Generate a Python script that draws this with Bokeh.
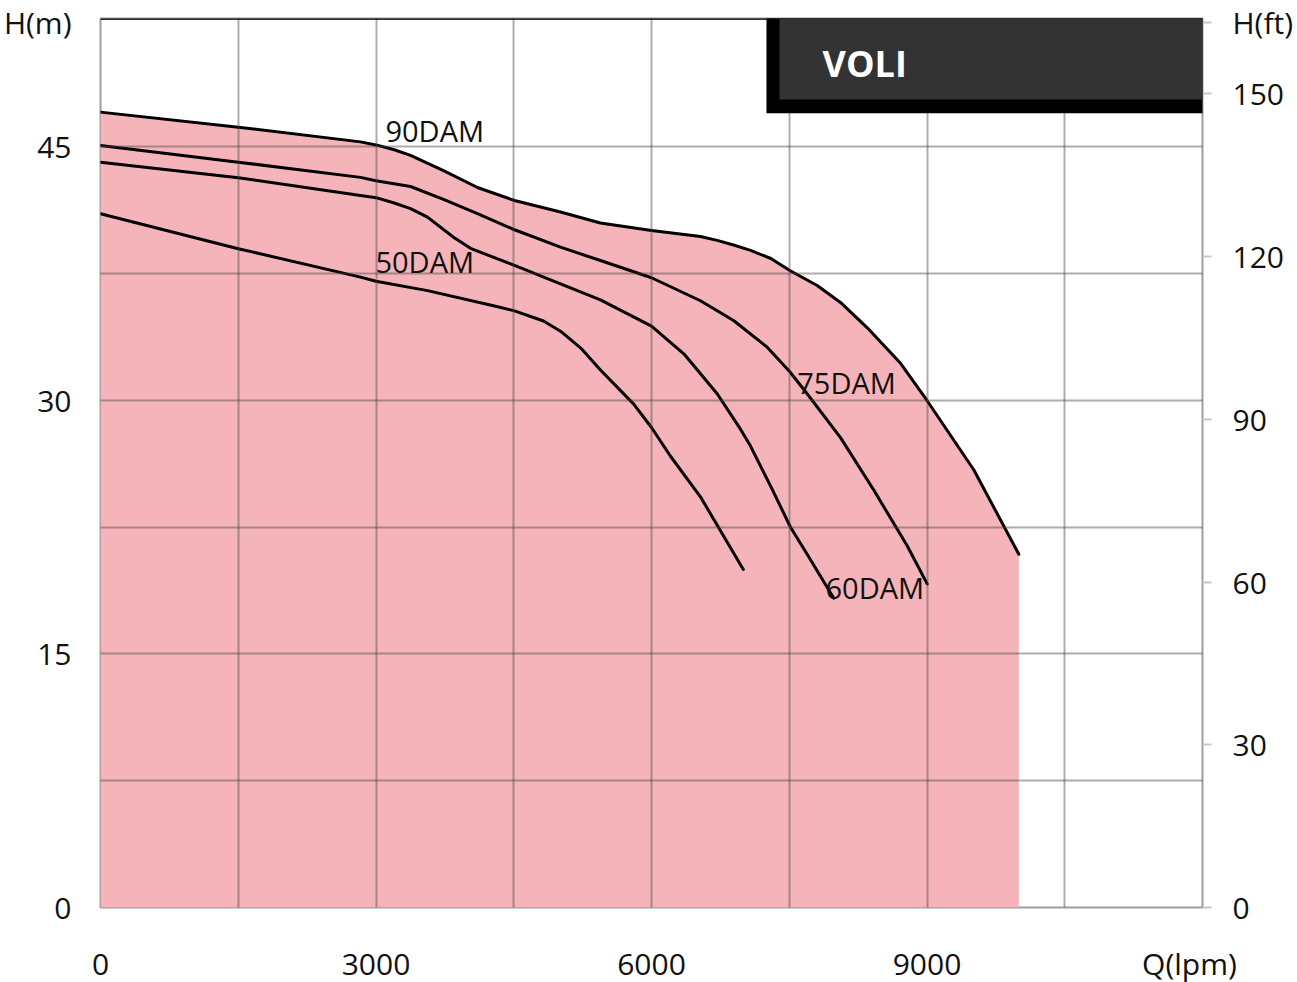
from bokeh.plotting import figure
from bokeh.models import (Range1d, LinearAxis, FixedTicker, Label, Span, BoxAnnotation)
from bokeh.embed import file_html
from bokeh.resources import INLINE

# ---- data (Q in lpm, H in m) ----
q90 = [0, 1500, 2831, 3000, 3190, 3376, 3735, 4105, 4508, 5009, 5444, 6000, 6533, 6715, 6893, 7078, 7300, 7506, 7804, 8058, 8350, 8712, 9000, 9509, 10000]
h90 = [47.06, 46.17, 45.3, 45.12, 44.85, 44.5, 43.6, 42.6, 41.83, 41.15, 40.5, 40.06, 39.7, 39.47, 39.2, 38.88, 38.4, 37.69, 36.8, 35.8, 34.3, 32.2, 30.0, 25.9, 20.9]

q75 = [0, 1500, 2831, 3000, 3376, 3735, 4105, 4508, 5009, 5444, 6000, 6533, 6893, 7260, 7506, 7695, 8058, 8420, 8784, 9002]
h75 = [45.09, 44.1, 43.2, 43.0, 42.66, 41.9, 41.05, 40.1, 39.07, 38.28, 37.26, 35.9, 34.73, 33.15, 31.7, 30.4, 27.8, 24.7, 21.4, 19.15]

q60 = [0, 1500, 3000, 3190, 3376, 3561, 3844, 4029, 4508, 5009, 5444, 6000, 6352, 6715, 6969, 7078, 7300, 7514, 7695, 7985]
h60 = [44.1, 43.18, 42.0, 41.7, 41.35, 40.85, 39.66, 39.0, 37.99, 36.9, 35.95, 34.4, 32.76, 30.4, 28.3, 27.3, 24.9, 22.5, 20.9, 18.3]

q50 = [0, 1500, 2831, 3000, 3561, 4279, 4508, 4824, 5009, 5230, 5444, 5804, 6000, 6207, 6533, 7000]
h50 = [41.05, 38.98, 37.3, 37.05, 36.5, 35.6, 35.3, 34.7, 34.1, 33.1, 31.8, 29.8, 28.4, 26.7, 24.3, 20.0]

series_names = ["90DAM", "75DAM", "60DAM", "50DAM"]
x_ticks = [0, 3000, 6000, 9000]
y_ticks_m = [0, 15, 30, 45]
y_ticks_ft = [0, 30, 60, 90, 120, 150]
x_grid = [1500, 3000, 4500, 6000, 7500, 9000, 10500]
y_grid = [7.5, 15, 22.5, 30, 37.5, 45]

# axis titles, placed as extra labelled ticks at the ends of the axes
x_title, x_title_at = "Q(lpm)", 11858
y_title, y_title_at = "H(m)", 52.34
ft_title, ft_title_at = "H(ft)", 163.1

X_MAX = 12000
Y_MAX = 52.6
FT_PER_M = 3.116

FONT = "Open Sans"
PINK = "#F5B4BA"

p = figure(frame_width=1102, frame_height=889,
           x_range=Range1d(0, X_MAX), y_range=Range1d(0, Y_MAX),
           output_backend="svg", toolbar_location=None,
           min_border_left=100, min_border_right=95, min_border_top=18, min_border_bottom=60)
p.background_fill_color = "white"
p.border_fill_color = "white"
p.outline_line_color = "#a09e98"
p.outline_line_width = 2

p.extra_y_ranges = {"ft": Range1d(0, Y_MAX * FT_PER_M)}

# fill under 90DAM
p.varea(x=q90, y1=0, y2=h90, fill_color=PINK, fill_alpha=1.0)

# curves
for q, h in [(q90, h90), (q75, h75), (q60, h60), (q50, h50)]:
    p.line(q, h, line_color="black", line_width=3.0, line_join="round", line_cap="round")

# grid
p.xgrid.ticker = FixedTicker(ticks=x_grid)
p.ygrid.ticker = FixedTicker(ticks=y_grid)
for g in (p.xgrid, p.ygrid):
    g.grid_line_color = "#4a4a40"
    g.grid_line_alpha = 0.45
    g.grid_line_width = 2
    g.level = "annotation"

# axes
xa = p.xaxis[0]
xa.ticker = FixedTicker(ticks=x_ticks + [x_title_at])
xa.major_label_overrides = {x_title_at: x_title}
ya = p.yaxis[0]
ya.ticker = FixedTicker(ticks=y_ticks_m + [y_title_at])
ya.major_label_overrides = {y_title_at: y_title}
for ax in (xa, ya):
    ax.axis_line_color = None
    ax.major_tick_line_color = None
    ax.minor_tick_line_color = None
    ax.major_label_text_font = FONT
    ax.major_label_text_font_size = "30px"
    ax.major_label_text_color = "#111111"
xa.major_label_standoff = 29
ya.major_label_standoff = 23

ra = LinearAxis(y_range_name="ft", ticker=FixedTicker(ticks=y_ticks_ft + [ft_title_at]))
ra.major_label_overrides = {ft_title_at: ft_title}
ra.axis_line_color = None
ra.major_tick_line_color = "#c8c8c0"
ra.major_tick_line_width = 2
ra.major_tick_out = 9
ra.major_tick_in = 0
ra.minor_tick_line_color = None
ra.major_label_text_font = FONT
ra.major_label_text_font_size = "30px"
ra.major_label_text_color = "#111111"
ra.major_label_standoff = 21
p.add_layout(ra, "right")

# top frame line
p.add_layout(Span(location=Y_MAX, dimension="width", line_color="black", line_width=2.5))

# curve labels
label_pos = {"90DAM": (3103, 45.95), "75DAM": (7587, 31.05), "60DAM": (7895, 18.95), "50DAM": (2994, 38.24)}
for name in series_names:
    x, y = label_pos[name]
    p.add_layout(Label(x=x, y=y, text=name, text_font=FONT, text_font_size="29px",
                       text_color="#111111", text_align="left", text_baseline="alphabetic"))

# VOLI header box
p.add_layout(BoxAnnotation(left=7252, right=12100, bottom=47.0, top=52.8,
                           fill_color="black", fill_alpha=1, line_color=None, level="overlay"))
p.add_layout(BoxAnnotation(left=7394, right=12100, bottom=47.81, top=52.8,
                           fill_color="#333333", fill_alpha=1, line_color=None, level="overlay"))
p.add_layout(Label(x=7862, y=49.95, text="VOLI", text_font=FONT, text_font_size="36px",
                   text_font_style="bold", text_color="white", text_align="left",
                   text_baseline="alphabetic", level="overlay"))

open("out.html", "w").write(file_html(p, INLINE))
